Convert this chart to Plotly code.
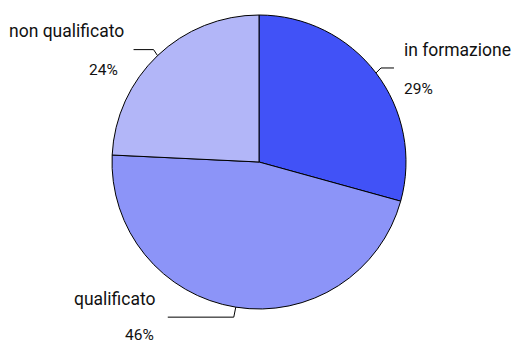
import math
import plotly.graph_objects as go

# ---- data ----
categories = ["in formazione", "qualificato", "non qualificato"]
values = [29, 46, 24]
pct_labels = ["29%", "46%", "24%"]

# ---- style ----
colors = ["#4152F7", "#8C94F8", "#B2B6F8"]
W, H = 512, 345
CX, CY, R = 259, 162, 147  # pie centre / radius in px

# per-slice label layout (pixel offsets): elbow offset from edge, horizontal run,
# name offset (dx, dy) from line end, pct offset (dx, dy) from line end, side
label_style = [
    dict(elbow=(5, -5), run=13, name=(8, -18), pct=(8, 21), side="left"),
    dict(elbow=(-2, 10), run=-66, name=(-10, -18), pct=(-12, 18), side="right"),
    dict(elbow=(-4, -6), run=-20, name=(-8, -19), pct=(-14, 20), side="right"),
]

def px2paper(x, y):
    return x / W, 1 - y / H

fig = go.Figure(
    go.Pie(
        labels=categories,
        values=values,
        sort=False,
        direction="clockwise",
        rotation=0,
        marker=dict(colors=colors, line=dict(color="black", width=1)),
        textinfo="none",
        hoverinfo="label+percent",
        showlegend=False,
        domain=dict(x=[(CX - R) / W, (CX + R) / W], y=[(H - CY - R) / H, (H - CY + R) / H]),
    )
)

total = sum(values)
cum = 0
shapes = []
annotations = []
name_font = dict(family="Roboto, sans-serif", size=17.5, color="#111111")
pct_font = dict(family="Roboto, sans-serif", size=15.5, color="#111111")
for cat, v, pl, st in zip(categories, values, pct_labels, label_style):
    mid = (cum + v / 2) / total * 2 * math.pi
    cum += v
    ex = CX + R * math.sin(mid)
    ey = CY - R * math.cos(mid)
    bx, by = ex + st["elbow"][0], ey + st["elbow"][1]
    lx = bx + st["run"]
    for (x0, y0, x1, y1) in [(ex, ey, bx, by), (bx, by, lx, by)]:
        p0 = px2paper(x0, y0)
        p1 = px2paper(x1, y1)
        shapes.append(dict(type="line", xref="paper", yref="paper",
                           x0=p0[0], y0=p0[1], x1=p1[0], y1=p1[1],
                           line=dict(color="black", width=1)))
    nx, ny = px2paper(lx + st["name"][0], by + st["name"][1])
    qx, qy = px2paper(lx + st["pct"][0], by + st["pct"][1])
    annotations.append(dict(x=nx, y=ny, xref="paper", yref="paper", text=cat,
                            showarrow=False, xanchor=st["side"], yanchor="middle", font=name_font))
    annotations.append(dict(x=qx, y=qy, xref="paper", yref="paper", text=pl,
                            showarrow=False, xanchor=st["side"], yanchor="middle", font=pct_font))

fig.update_layout(
    width=W, height=H,
    margin=dict(l=0, r=0, t=0, b=0),
    paper_bgcolor="white",
    plot_bgcolor="white",
    shapes=shapes,
    annotations=annotations,
)

fig.write_html(
    "out.html",
    config={"displayModeBar": False},
    post_script="document.body.style.margin='0';document.body.style.overflow='hidden';",
)
